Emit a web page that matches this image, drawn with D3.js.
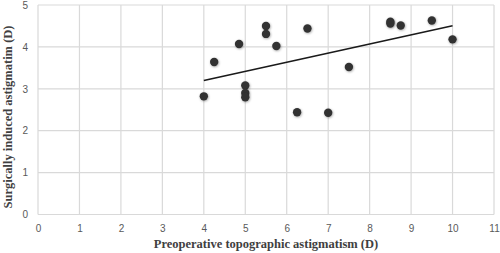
<!DOCTYPE html>
<html>
<head>
<meta charset="utf-8">
<script src="https://cdn.jsdelivr.net/npm/d3@7"></script>
<style>
  body { margin: 0; background: #fff; }
  .tick text { font-family: "Liberation Sans", Arial, sans-serif; font-size: 10px; fill: #595959; }
  .titulo { font-family: "Liberation Serif", "Times New Roman", serif; font-weight: bold; font-size: 12.5px; fill: #404040; }
</style>
</head>
<body>
<div id="graf"></div>
<script>
// preoperative topographic astigmatism (D)
const preop = [4, 4.25, 4.85, 5, 5, 5, 5.5, 5.5, 5.75, 6.25, 6.5, 7, 7.5, 8.5, 8.5, 8.75, 9.5, 10];
// surgically induced astigmatism (D)
const sia = [2.82, 3.64, 4.07, 3.08, 2.9, 2.8, 4.5, 4.31, 4.02, 2.44, 4.44, 2.43, 3.52, 4.6, 4.56, 4.51, 4.63, 4.18];

const xTicks = d3.range(0, 12);
const yTicks = d3.range(0, 6);

const ancho_total = 500;
const alto_total = 253;
const margins = { top: 5, left: 38, right: 6, bottom: 38.5 };
const ancho = ancho_total - margins.left - margins.right;
const alto = alto_total - margins.top - margins.bottom;

const svg = d3.select("#graf")
  .append("svg")
  .attr("width", ancho_total)
  .attr("height", alto_total);

const defs = svg.append("defs");
const sombra = defs.append("filter").attr("id", "sombra")
  .attr("x", "-50%").attr("y", "-50%").attr("width", "200%").attr("height", "200%");
sombra.append("feDropShadow")
  .attr("dx", 0.6).attr("dy", 0.8).attr("stdDeviation", 1)
  .attr("flood-color", "#000").attr("flood-opacity", 0.35);

const g = svg.append("g")
  .attr("transform", `translate(${margins.left}, ${margins.top})`);

const x = d3.scaleLinear().domain([0, 11]).range([0, ancho]);
const y = d3.scaleLinear().domain([0, 5]).range([alto, 0]);

// gridlines
g.append("g").selectAll("line").data(xTicks).join("line")
  .attr("x1", (d) => x(d)).attr("x2", (d) => x(d))
  .attr("y1", 0).attr("y2", alto)
  .attr("stroke", "#d9d9d9").attr("stroke-width", 1.2);
g.append("g").selectAll("line").data(yTicks).join("line")
  .attr("x1", 0).attr("x2", ancho)
  .attr("y1", (d) => y(d)).attr("y2", (d) => y(d))
  .attr("stroke", "#d9d9d9").attr("stroke-width", 1.2);

// axes (labels only)
const ejeX = g.append("g")
  .attr("transform", `translate(0, ${alto})`)
  .call(d3.axisBottom(x).tickValues(xTicks).tickSize(0).tickPadding(10).tickFormat(d3.format("d")));
ejeX.select(".domain").remove();

const ejeY = g.append("g")
  .call(d3.axisLeft(y).tickValues(yTicks).tickSize(0).tickPadding(10).tickFormat(d3.format("d")));
ejeY.select(".domain").remove();

// trend line (least squares)
const mx = d3.mean(preop);
const my = d3.mean(sia);
const sxy = d3.sum(preop, (v, i) => (v - mx) * (sia[i] - my));
const sxx = d3.sum(preop, (v) => (v - mx) * (v - mx));
const pend = sxy / sxx;
const inter = my - pend * mx;
const xmin = d3.min(preop), xmax = d3.max(preop);

g.append("line")
  .attr("x1", x(xmin)).attr("y1", y(inter + pend * xmin))
  .attr("x2", x(xmax)).attr("y2", y(inter + pend * xmax))
  .attr("stroke", "#1a1a1a").attr("stroke-width", 1.6);

// points
g.append("g").selectAll("circle").data(preop).join("circle")
  .attr("cx", (d) => x(d))
  .attr("cy", (d, i) => y(sia[i]))
  .attr("r", 4.2)
  .attr("fill", "#333333")
  .attr("filter", "url(#sombra)");

// titles
svg.append("text")
  .attr("class", "titulo")
  .attr("x", margins.left + ancho / 2)
  .attr("y", 248)
  .attr("text-anchor", "middle")
  .text("Preoperative topographic astigmatism (D)");

svg.append("text")
  .attr("class", "titulo")
  .attr("transform", `translate(12, 117) rotate(-90)`)
  .attr("text-anchor", "middle")
  .text("Surgically induced astigmatim (D)");
</script>
</body>
</html>
